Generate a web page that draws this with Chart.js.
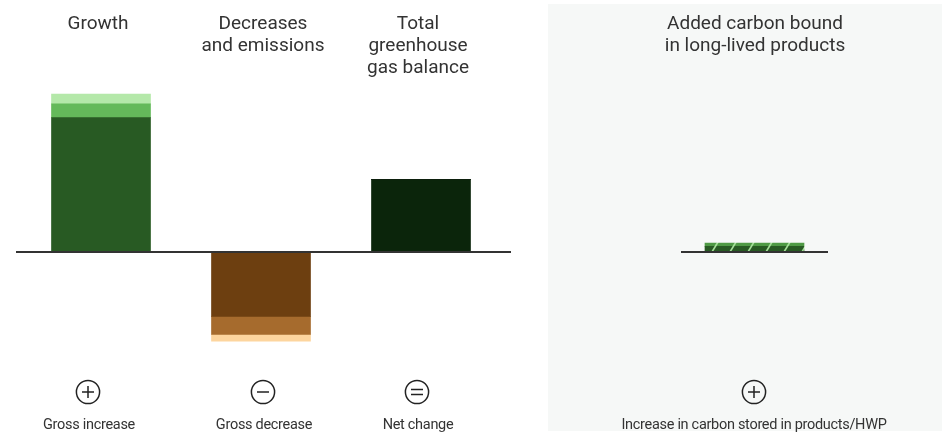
<!DOCTYPE html>
<html>
<head>
<meta charset="utf-8">
<script src="https://cdn.jsdelivr.net/npm/chart.js@4/dist/chart.umd.min.js"></script>
<style>
  html, body { margin: 0; padding: 0; background: #fff; }
  body { width: 942px; height: 435px; position: relative; overflow: hidden; font-family: Roboto, "Noto Sans", sans-serif; color: #333; }
  #hwp-bg { position: absolute; left: 548px; top: 4px; width: 394px; height: 427px; background: #f6f8f7; }
  #left-wrap { position: absolute; left: 0; top: 0; width: 548px; height: 435px; }
  #right-wrap { position: absolute; left: 548px; top: 0; width: 394px; height: 435px; }
  .title { position: absolute; top: 12px; width: 220px; margin-left: -110px; text-align: center; font-size: 19px; line-height: 22px; }
  .icon { position: absolute; top: 379px; width: 26px; height: 26px; margin-left: -13px; }
  .label { position: absolute; top: 417px; width: 320px; margin-left: -160px; text-align: center; font-size: 14.5px; line-height: 16px; letter-spacing: -0.3px; }
</style>
</head>
<body>
<div id="hwp-bg"></div>
<div id="left-wrap"><canvas id="balanceChart" width="548" height="435"></canvas></div>
<div id="right-wrap"><canvas id="hwpChart" width="394" height="435"></canvas></div>
<div id="overlay"></div>

<script>
// ---- data (Mt CO2 eq) ----
const categories = ['Growth', 'Decreases and emissions', 'Total greenhouse gas balance'];
const mainPart = [67.2, -32.2, 36.2];
const middlePart = [6.9, -9.0, 0];
const topPart = [4.8, -3.4, 0];

const hwpCategories = ['Added carbon bound in long-lived products'];
const hwpBase = [2.8];
const hwpAdded = [1.6];

const titles = [['Growth'], ['Decreases', 'and emissions'], ['Total', 'greenhouse', 'gas balance']];
const hwpTitle = ['Added carbon bound', 'in long-lived products'];
const bottomLabels = ['Gross increase', 'Gross decrease', 'Net change'];
const bottomIcons = ['plus', 'minus', 'equals'];
const hwpLabel = 'Increase in carbon stored in products/HWP';

const yMin = -50, yMax = 100;

// baseline drawn over the bars
const baselinePlugin = {
  id: 'baseline',
  afterDatasetsDraw(chart, args, opts) {
    const ctx = chart.ctx;
    const y = chart.scales.y.getPixelForValue(0);
    ctx.save();
    ctx.strokeStyle = '#333';
    ctx.lineWidth = 1.8;
    ctx.beginPath();
    ctx.moveTo(opts.from, y);
    ctx.lineTo(opts.to, y);
    ctx.stroke();
    ctx.restore();
  }
};

function hatch(bg) {
  const c = document.createElement('canvas');
  c.width = 18; c.height = 18;
  const g = c.getContext('2d');
  g.fillStyle = bg;
  g.fillRect(0, 0, 18, 18);
  g.strokeStyle = '#a6e09a';
  g.lineWidth = 1.6;
  g.beginPath();
  g.moveTo(2, 18); g.lineTo(8, 8);
  g.stroke();
  return g.createPattern(c, 'repeat');
}

const sharedOptions = {
  responsive: false,
  animation: false,
  plugins: { legend: { display: false }, tooltip: { enabled: false } },
  scales: {
    x: { stacked: true, display: false, grid: { display: false } },
    y: { stacked: true, display: false, min: yMin, max: yMax, grid: { display: false } }
  }
};

new Chart(document.getElementById('balanceChart'), {
  type: 'bar',
  data: {
    labels: categories,
    datasets: [
      { data: mainPart, backgroundColor: ['#285a23', '#6d3f10', '#0b250b'], barThickness: 99 },
      { data: middlePart, backgroundColor: ['#64b95a', '#a66b2d', '#000'], barThickness: 99 },
      { data: topPart, backgroundColor: ['#b4e8a9', '#fdd59e', '#000'], barThickness: 99 }
    ]
  },
  options: Object.assign({}, sharedOptions, {
    layout: { padding: { left: 21, right: 47, top: 52, bottom: 83 } },
    plugins: Object.assign({}, sharedOptions.plugins, { baseline: { from: 16, to: 511 } })
  }),
  plugins: [baselinePlugin]
});

new Chart(document.getElementById('hwpChart'), {
  type: 'bar',
  data: {
    labels: hwpCategories,
    datasets: [
      { data: hwpBase, backgroundColor: hatch('#285a23'), barThickness: 99 },
      { data: hwpAdded, backgroundColor: hatch('#4f9a45'), barThickness: 99 }
    ]
  },
  options: Object.assign({}, sharedOptions, {
    layout: { padding: { left: 133, right: 114, top: 52, bottom: 83 } },
    plugins: Object.assign({}, sharedOptions.plugins, { baseline: { from: 133, to: 280 } })
  }),
  plugins: [baselinePlugin]
});

// ---- text and icons ----
const overlay = document.getElementById('overlay');
const titleX = [98, 263, 418];
const iconX = [88, 263, 417];

function iconSvg(kind) {
  let inner = '<circle cx="13" cy="13" r="11.6" fill="none" stroke="#222" stroke-width="1.5"/>';
  if (kind === 'plus') inner += '<path d="M7 13H19M13 7V19" stroke="#222" stroke-width="1.5"/>';
  if (kind === 'minus') inner += '<path d="M7 13H19" stroke="#222" stroke-width="1.5"/>';
  if (kind === 'equals') inner += '<path d="M7 10.5H19M7 15.5H19" stroke="#222" stroke-width="1.5"/>';
  return '<svg width="26" height="26" viewBox="0 0 26 26">' + inner + '</svg>';
}

function addDiv(cls, x, html) {
  const d = document.createElement('div');
  d.className = cls;
  d.style.left = x + 'px';
  d.innerHTML = html;
  overlay.appendChild(d);
}

titles.forEach((t, i) => addDiv('title', titleX[i], t.join('<br>')));
addDiv('title', 755, hwpTitle.join('<br>'));
bottomIcons.forEach((k, i) => addDiv('icon', iconX[i], iconSvg(k)));
addDiv('icon', 754, iconSvg('plus'));
bottomLabels.forEach((t, i) => addDiv('label', iconX[i] + 1, t));
addDiv('label', 754, hwpLabel);
</script>
</body>
</html>
